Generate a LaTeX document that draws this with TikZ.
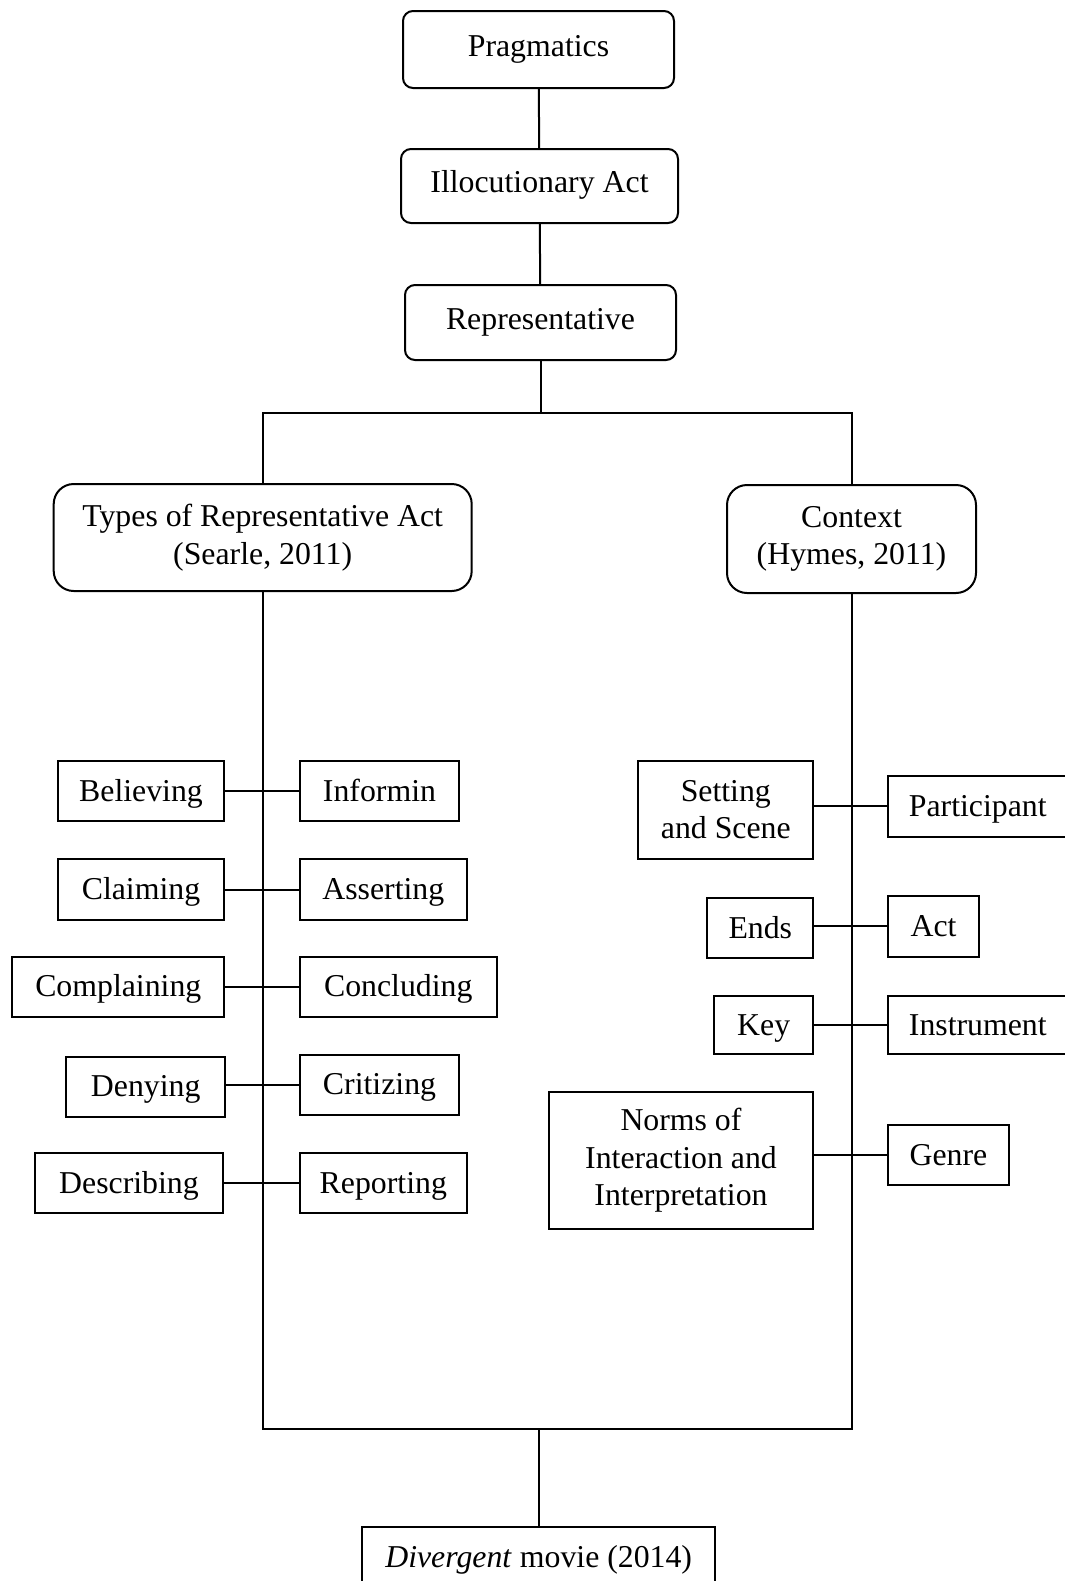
\documentclass[tikz,border=0pt]{standalone}
\usepackage{fontspec}
\setmainfont{Liberation Serif}
\usetikzlibrary{positioning,calc}

\begin{document}
\begin{tikzpicture}[x=0.5pt,y=-0.5pt,line width=1pt,
       font={\fontsize{15.9}{18.7}\selectfont},
       rbox/.style={draw, rounded corners=5pt, inner sep=0pt, text height=9pt, text depth=2.5pt},
       bigbox/.style={draw, rounded corners=10pt, inner sep=0pt, align=center},
       sbox/.style={draw, inner sep=0pt, text height=11.5pt, text depth=1.5pt},
       mbox/.style={draw, inner sep=0pt, align=center}]
      \useasboundingbox (0,0) rectangle (1065,1581);
      % top of the tree
      \node[rbox, minimum width=135.5pt, minimum height=38.5pt] (prag) at (538.5, 49.5) {Pragmatics};
      \node[rbox, minimum width=138.5pt, minimum height=37pt] (illoc) at (539.5, 186) {Illocutionary Act};
      \node[rbox, minimum width=135.5pt, minimum height=37.5pt] (repr) at (540.5, 322.5) {Representative};
      \node[bigbox, minimum width=209pt, minimum height=53.5pt] (types) at (262.7, 537.5) {Types of Representative Act\\(Searle, 2011)};
      \node[bigbox, minimum width=124.5pt, minimum height=54pt] (ctx) at (851.5, 539) {Context\\(Hymes, 2011)};
      \coordinate (split) at (540.5, 412.5);
      \coordinate (join) at (538.7, 1429);
      % representative acts
      \node[sbox, minimum width=83.3pt, minimum height=30pt] (bel) at (141, 791) {Believing};
      \node[sbox, minimum width=79.5pt, minimum height=30pt] (inf) at (379.5, 791) {Informin};
      \node[sbox, minimum width=83.3pt, minimum height=30.5pt] (cla) at (141, 889.5) {Claiming};
      \node[sbox, minimum width=83.3pt, minimum height=30.5pt] (ass) at (383.3, 889.5) {Asserting};
      \node[sbox, minimum width=106pt, minimum height=30pt] (com) at (118.3, 986.7) {Complaining};
      \node[sbox, minimum width=98.3pt, minimum height=30pt] (con) at (398.3, 986.7) {Concluding};
      \node[sbox, minimum width=79.7pt, minimum height=30pt] (den) at (145.7, 1086.8) {Denying};
      \node[sbox, minimum width=79.5pt, minimum height=30pt] (cri) at (379.5, 1084.7) {Critizing};
      \node[sbox, minimum width=94.3pt, minimum height=30pt] (des) at (129, 1183.3) {Describing};
      \node[sbox, minimum width=83.3pt, minimum height=30pt] (rep) at (383.3, 1183.3) {Reporting};
      % context components
      \node[mbox, minimum width=87.5pt, minimum height=49pt] (set) at (725.8, 809.8) {Setting\\and Scene};
      \node[sbox, minimum width=90pt, minimum height=30.5pt] (par) at (977.8, 806.2) {Participant};
      \node[sbox, minimum width=53pt, minimum height=30.3pt] (end) at (760.3, 928) {Ends};
      \node[sbox, minimum width=45.8pt, minimum height=30.5pt] (act) at (933.5, 926.2) {Act};
      \node[sbox, minimum width=49.7pt, minimum height=29.3pt] (key) at (763.7, 1025) {Key};
      \node[sbox, minimum width=90pt, minimum height=29.3pt] (ins) at (977.8, 1025) {Instrument};
      \node[mbox, minimum width=132.3pt, minimum height=68.5pt] (nor) at (681, 1160.5) {Norms of\\Interaction and\\Interpretation};
      \node[sbox, minimum width=60.8pt, minimum height=30pt] (gen) at (948.5, 1155) {Genre};
      \node[sbox, minimum width=176.3pt, minimum height=30pt] (mov) at (538.7, 1557) {\textit{Divergent} movie (2014)};

      \draw (prag) -- (illoc);
      \draw (illoc) -- (repr);
      \draw (repr) -- (split);
      \draw (types.north) |- (split) -| (ctx.north);
      \draw (types.south) |- (join) -| (ctx.south);
      \draw (join) -- (mov.north);
      \foreach \a/\b in {bel/inf, cla/ass, com/con, den/cri, des/rep,
                         set/par, end/act, key/ins, nor/gen}
        \draw (\b.west -| \a.east) -- (\b.west);
     \end{tikzpicture}
\end{document}
